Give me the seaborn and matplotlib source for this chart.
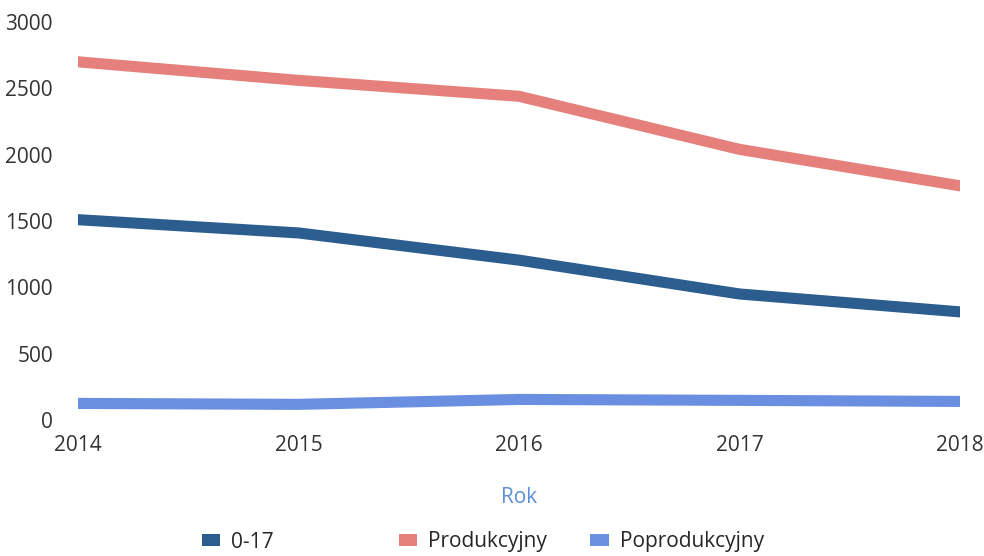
import matplotlib
matplotlib.use('Agg')
import matplotlib.pyplot as plt
from matplotlib.patches import Patch
import pandas as pd
import seaborn as sns

# data
years = [2014, 2015, 2016, 2017, 2018]
age_0_17 = [1510, 1410, 1205, 950, 815]
produkcyjny = [2700, 2560, 2440, 2040, 1765]
poprodukcyjny = [125, 118, 155, 148, 140]

series_names = ['0-17', 'Produkcyjny', 'Poprodukcyjny']
colors = ['#2c5d8f', '#e5807c', '#6a8fe0']

df = pd.DataFrame({
    'Rok': years * 3,
    'Value': age_0_17 + produkcyjny + poprodukcyjny,
    'Grupa': [n for n in series_names for _ in years],
})

sns.set_theme(style='white')
plt.rcParams['font.family'] = ['Open Sans', 'DejaVu Sans']

fig = plt.figure(figsize=(9.84, 5.56), dpi=100)
ax = fig.add_axes([78 / 984, 1 - 420 / 556, (960 - 78) / 984, (420 - 22) / 556])

sns.lineplot(
    data=df,
    x='Rok',
    y='Value',
    hue='Grupa',
    palette=dict(zip(series_names, colors)),
    linewidth=8,
    legend=False,
    ax=ax,
)

ax.set_xlim(2014, 2018)
ax.set_ylim(0, 3000)
ax.set_xticks(years)
ax.set_xticklabels([str(y) for y in years])
ax.set_yticks(range(0, 3001, 500))
for s in ax.spines.values():
    s.set_visible(False)
ax.tick_params(axis='both', length=0, labelsize=15, colors='#333333')
ax.tick_params(axis='y', pad=18)
ax.tick_params(axis='x', pad=11)
ax.set_ylabel('')
ax.set_xlabel('Rok', fontsize=15, color='#5b8fd8', labelpad=22)

# legend items placed separately, as in the reference
legend_x = [0.205, 0.405, 0.600]
for name, col, lx in zip(series_names, colors, legend_x):
    fig.legend(
        handles=[Patch(facecolor=col, edgecolor='none')],
        labels=[name],
        loc='center left',
        bbox_to_anchor=(lx, 1 - 542 / 556),
        frameon=False,
        fontsize=15,
        handlelength=0.9,
        handleheight=0.55,
        handletextpad=0.5,
        borderaxespad=0,
        borderpad=0,
    )

fig.savefig('out.png', dpi=100)
